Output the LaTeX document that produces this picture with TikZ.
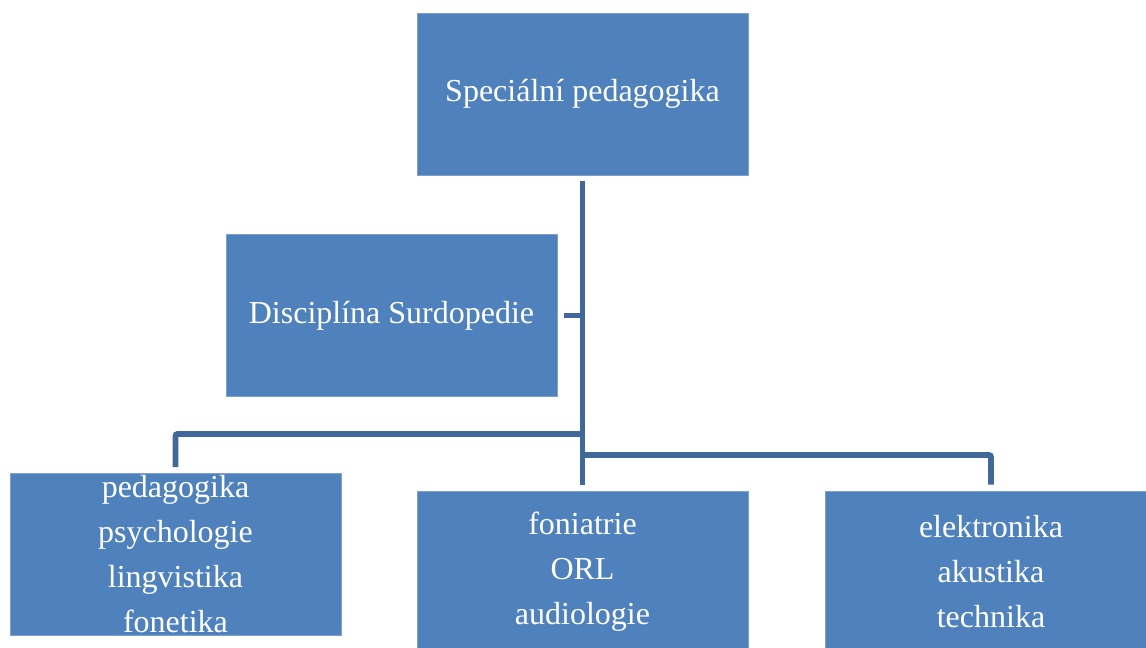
\documentclass[tikz,border=0pt]{standalone}
\usepackage{fontspec}
\setmainfont{Liberation Serif}
\usepackage{xcolor}
\definecolor{boxblue}{RGB}{79,129,189}
\definecolor{boxedge}{RGB}{125,160,208}
\definecolor{linkblue}{RGB}{65,104,154}
\begin{document}
\begin{tikzpicture}[x=0.75pt,y=-0.75pt]
\tikzstyle{field}=[rectangle,draw=boxedge,line width=0.6pt,fill=boxblue,text=white,align=center,inner sep=0pt,minimum width=248.25pt,minimum height=121.5pt,font=\fontsize{24}{33.75}\selectfont]
\tikzstyle{link}=[draw=linkblue,line width=4.3pt,rounded corners=1.5pt]
\useasboundingbox (0,0) rectangle (1146,648);
\clip (0,0) rectangle (1146,648);
\node[field] (spec) at (582.5,94) {Speciální pedagogika};
\node[field] (surdo) at (391.5,315.5) {Disciplína Surdopedie};
\node[field] (humanit) at (175.5,554.5) {pedagogika\\psychologie\\lingvistika\\fonetika};
\node[field] (medic) at (582.5,572) {foniatrie\\ORL\\audiologie};
\node[field] (techn) at (991,572) {elektronika\\ akustika\\technika};
\coordinate (jleft) at (582.5,434);
\coordinate (jright) at (582.5,455);
\draw[link,shorten <=4.5pt,shorten >=4.5pt] (spec.south) -- (medic.north);
\draw[link,shorten <=5pt] (surdo.east) -- (surdo.east -| spec.south);
\draw[link,shorten >=4.5pt] (jleft) -| (humanit.north);
\draw[link,shorten >=4.5pt] (jright) -| (techn.north);
\end{tikzpicture}
\end{document}
